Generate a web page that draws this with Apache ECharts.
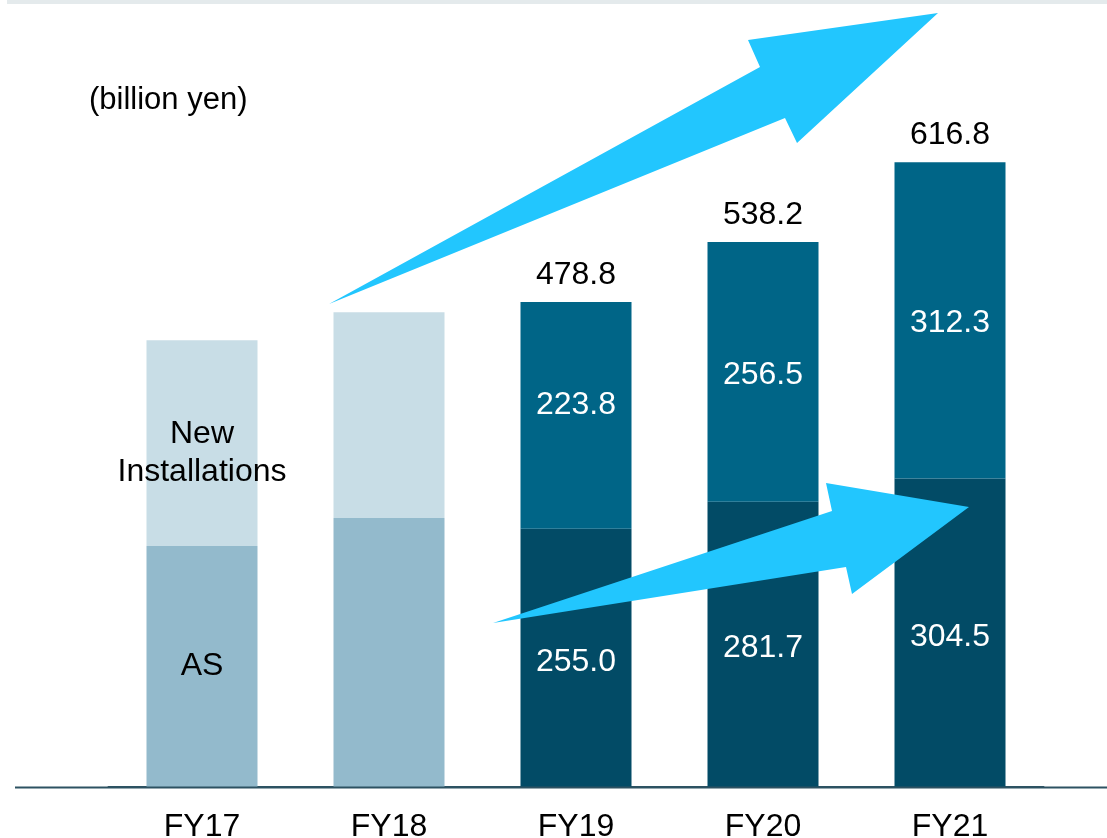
<!DOCTYPE html>
<html>
<head>
<meta charset="utf-8">
<script src="https://cdn.jsdelivr.net/npm/echarts@6/dist/echarts.min.js"></script>
<style>
  html, body { margin: 0; padding: 0; background: #fff; }
  #chart { width: 1107px; height: 838px; }
</style>
</head>
<body>
<div id="chart"></div>
<script>
const categories = ['FY17', 'FY18', 'FY19', 'FY20', 'FY21']
const asValues = [237.9, 265.5, 255.0, 281.7, 304.5]
const newValues = [203.3, 203.3, 223.8, 256.5, 312.3]
const totalValues = [null, null, 478.8, 538.2, 616.8]
const asLabels = ['AS', '', '255.0', '281.7', '304.5']
const newLabels = ['New\nInstallations', '', '223.8', '256.5', '312.3']

const font = '"Liberation Sans", Arial, sans-serif'
const arrowColor = '#22c6fe'

const chart = echarts.init(document.getElementById('chart'))

const isOld = (i) => i < 2

const option = {
  animation: false,
  textStyle: { fontFamily: font },
  grid: { left: 108.5, right: 63.5, top: 78, bottom: 51, containLabel: false, outerBoundsMode: 'none' },
  xAxis: {
    type: 'category',
    data: categories,
    axisTick: { show: false },
    axisLine: { show: true, lineStyle: { color: '#2d5262', width: 2 } },
    axisLabel: { color: '#000', fontSize: 32, margin: 24, fontFamily: font }
  },
  yAxis: {
    type: 'value',
    min: 0,
    max: 700,
    show: false,
    splitLine: { show: false }
  },
  series: [
    {
      name: 'AS',
      type: 'bar',
      stack: 'total',
      barWidth: 111,
      data: asValues.map((v, i) => ({
        value: v,
        itemStyle: { color: isOld(i) ? '#93bacc' : '#024b66' },
        label: { color: isOld(i) ? '#000' : '#fff', offset: [0, i === 0 ? 0 : 4] }
      })),
      label: {
        show: true,
        position: 'inside',
        fontSize: 32,
        fontFamily: font,
        formatter: (p) => asLabels[p.dataIndex]
      }
    },
    {
      name: 'New Installations',
      type: 'bar',
      stack: 'total',
      barWidth: 111,
      data: newValues.map((v, i) => ({
        value: v,
        itemStyle: { color: isOld(i) ? '#c8dde6' : '#006587' },
        label: {
          color: isOld(i) ? '#000' : '#fff',
          offset: [0, i === 0 ? 10 : (i === 2 ? -10 : 3)]
        }
      })),
      label: {
        show: true,
        position: 'inside',
        fontSize: 32,
        lineHeight: 38,
        fontFamily: font,
        formatter: (p) => newLabels[p.dataIndex]
      }
    },
    {
      name: 'Total',
      type: 'bar',
      barWidth: 111,
      barGap: '-100%',
      silent: true,
      itemStyle: { color: 'rgba(0,0,0,0)' },
      data: totalValues.map((v) => (v === null ? '-' : v)),
      label: {
        show: true,
        position: 'top',
        distance: 11,
        color: '#000',
        fontSize: 32,
        fontFamily: font,
        formatter: (p) => totalValues[p.dataIndex].toFixed(1)
      }
    }
  ],
  graphic: [
    // light band at the very top
    {
      type: 'rect',
      shape: { x: 7, y: 0, width: 1100, height: 4 },
      style: { fill: '#e4eaec' },
      silent: true
    },
    // full width baseline
    {
      type: 'line',
      shape: { x1: 15, y1: 787.5, x2: 1107, y2: 787.5 },
      style: { stroke: '#2d5262', lineWidth: 2 },
      z: 50,
      silent: true
    },
    {
      type: 'text',
      left: 89,
      top: 85,
      style: { text: '(billion yen)', fill: '#000', font: '31px ' + font }
    },
    {
      type: 'polygon',
      shape: { points: [[329, 304], [760, 67], [748, 40], [938, 13], [797, 143], [785, 118]] },
      style: { fill: arrowColor },
      z: 40,
      silent: true
    },
    {
      type: 'polygon',
      shape: { points: [[493, 623], [832, 511], [826, 483], [969, 507], [852, 594], [846, 567]] },
      style: { fill: arrowColor },
      z: 40,
      silent: true
    }
  ]
}

chart.setOption(option)
</script>
</body>
</html>
